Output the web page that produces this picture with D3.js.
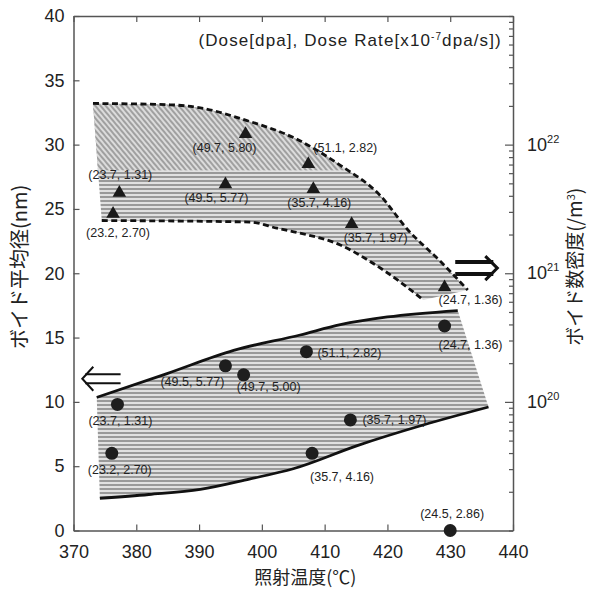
<!DOCTYPE html>
<html>
<head>
<meta charset="utf-8">
<script src="https://cdn.jsdelivr.net/npm/d3@7"></script>
<style>
  body { margin: 0; background: #fff; }
  text { font-family: "Liberation Sans", Arial, sans-serif; fill: #222; }
  .jp { font-family: "Noto Sans CJK JP", sans-serif; }
</style>
</head>
<body>
<div id="chart"></div>
<script>
// ボイド数密度 (三角, 右軸)
const triTemp = [377.3, 376.3, 397.4, 394.2, 407.4, 408.2, 414.3, 429.1];
const triDensity = [4.3e21, 2.95e21, 1.23e22, 5.0e21, 7.2e21, 4.6e21, 2.45e21, 7.9e20];
const triLabel = ["(23.7, 1.31)", "(23.2, 2.70)", "(49.7, 5.80)", "(49.5, 5.77)", "(51.1, 2.82)", "(35.7, 4.16)", "(35.7, 1.97)", "(24.7, 1.36)"];

// ボイド平均径 (丸, 左軸)
const dotTemp = [377.0, 376.1, 394.2, 397.1, 407.1, 429.1, 414.1, 408.0, 430.0];
const dotSize = [9.8, 6.0, 12.8, 12.1, 13.9, 15.9, 8.6, 6.0, 0];
const dotLabel = ["(23.7, 1.31)", "(23.2, 2.70)", "(49.5, 5.77)", "(49.7, 5.00)", "(51.1, 2.82)", "(24.7, 1.36)", "(35.7, 1.97)", "(35.7, 4.16)", "(24.5, 2.86)"];

// 帯 (数密度) 上下の境界
const densTopTemp = [373.1, 385.4, 390.2, 397.4, 405.6, 412.5, 418.9, 423.2, 428.5, 432.8];
const densTopVal = [2.09e22, 2.04e22, 1.93e22, 1.55e22, 1.10e22, 6.9e21, 4.0e21, 2.19e21, 1.23e21, 7.4e20];
const densBotTemp = [374.5, 398.1, 402.4, 406.1, 412.5, 417.3, 422.1, 425.7];
const densBotVal = [2.57e21, 2.5e21, 2.24e21, 2.05e21, 1.66e21, 1.23e21, 8.5e20, 6.2e20];

// 帯 (平均径) 上下の境界
const sizeTopTemp = [373.7, 384.9, 395.5, 406.1, 412.5, 420.0, 431.2];
const sizeTopVal = [10.35, 12.2, 14.0, 15.2, 16.0, 16.6, 17.1];
const sizeBotTemp = [374.2, 382.0, 390.2, 398.0, 405.0, 415.2, 425.7, 436.1];
const sizeBotVal = [2.5, 2.8, 3.2, 4.0, 4.8, 6.6, 8.2, 9.6];

const xTicks = [370, 380, 390, 400, 410, 420, 430, 440];
const yTicks = [0, 5, 10, 15, 20, 25, 30, 35, 40];
const rTicks = [1e20, 1e21, 1e22];

// ラベルの位置 (点からのずれ)
const triOff = [[-31, -13], [-27, 24], [-53, 19], [-41, 19], [5, -11], [-26, 19], [-8, 19], [-6, 18]];
const dotOff = [[-29, 21], [-24, 21], [-65, 20], [-7, 16], [11, 5], [-6, 23], [12, 4], [-2, 28], [-30, -13]];

const width = 591, height = 592;
const m = { left: 73.5, right: 78, top: 16, bottom: 61.5 };

const svg = d3.select("#chart").append("svg")
  .attr("width", width)
  .attr("height", height);

const x = d3.scaleLinear().domain([370, 440]).range([m.left, width - m.right]);
const y = d3.scaleLinear().domain([0, 40]).range([height - m.bottom, m.top]);
const yR = d3.scaleLog().domain([1e19, 1e23]).range([height - m.bottom, m.top]);

// パターン
const defs = svg.append("defs");
const hp = defs.append("pattern").attr("id", "hstripe")
  .attr("patternUnits", "userSpaceOnUse").attr("width", 8).attr("height", 4);
hp.append("rect").attr("width", 8).attr("height", 4).attr("fill", "#e0e0e0");
hp.append("rect").attr("width", 8).attr("height", 2).attr("fill", "#999");

const dp = defs.append("pattern").attr("id", "dstripe")
  .attr("patternUnits", "userSpaceOnUse").attr("width", 4).attr("height", 4)
  .attr("patternTransform", "rotate(-40)");
dp.append("rect").attr("width", 4).attr("height", 4).attr("fill", "#dcdcdc");
dp.append("rect").attr("width", 2).attr("height", 4).attr("fill", "#a0a0a0");

const curve = d3.curveMonotoneX;
const zip = (a, b) => a.map((v, i) => [v, b[i]]);

// 数密度の帯
const dTop = zip(densTopTemp, densTopVal);
const dBot = zip(densBotTemp, densBotVal);
const lineR = d3.line().x(d => x(d[0])).y(d => yR(d[1])).curve(curve);
const bandR = lineR(dTop) + "L" + lineR(dBot.slice().reverse()).slice(1) + "Z";

defs.append("clipPath").attr("id", "clipR").append("path").attr("d", bandR);
svg.append("path").attr("d", bandR).attr("fill", "url(#hstripe)");
svg.append("rect")
  .attr("clip-path", "url(#clipR)")
  .attr("x", m.left).attr("y", m.top)
  .attr("width", width - m.left - m.right)
  .attr("height", y(28) - m.top)
  .attr("fill", "url(#dstripe)");

svg.append("path").attr("d", lineR(dTop))
  .attr("fill", "none").attr("stroke", "#111")
  .attr("stroke-width", 2.8).attr("stroke-dasharray", "6,3.5");
svg.append("path").attr("d", lineR(dBot))
  .attr("fill", "none").attr("stroke", "#111")
  .attr("stroke-width", 2.8).attr("stroke-dasharray", "6,3.5");

// 平均径の帯
const sTop = zip(sizeTopTemp, sizeTopVal);
const sBot = zip(sizeBotTemp, sizeBotVal);
const lineL = d3.line().x(d => x(d[0])).y(d => y(d[1])).curve(curve);
const bandL = lineL(sTop) + "L" + lineL(sBot.slice().reverse()).slice(1) + "Z";
svg.append("path").attr("d", bandL).attr("fill", "url(#hstripe)");
svg.append("path").attr("d", lineL(sTop))
  .attr("fill", "none").attr("stroke", "#111").attr("stroke-width", 2.8);
svg.append("path").attr("d", lineL(sBot))
  .attr("fill", "none").attr("stroke", "#111").attr("stroke-width", 2.8);

// 軸
const axisColor = "#555";
const gx = svg.append("g")
  .attr("transform", `translate(0,${height - m.bottom})`)
  .call(d3.axisBottom(x).tickValues(xTicks).tickSizeInner(-6).tickSizeOuter(0).tickPadding(15));
const gxt = svg.append("g")
  .attr("transform", `translate(0,${m.top})`)
  .call(d3.axisTop(x).tickValues(xTicks).tickSizeInner(-6).tickSizeOuter(0).tickFormat(""));
const gy = svg.append("g")
  .attr("transform", `translate(${m.left},0)`)
  .call(d3.axisLeft(y).tickValues(yTicks).tickSizeInner(-6).tickSizeOuter(0).tickPadding(9));
const gr = svg.append("g")
  .attr("transform", `translate(${width - m.right},0)`)
  .call(d3.axisRight(yR).tickValues(yR.ticks()).tickSizeInner(-4).tickSizeOuter(0).tickFormat(""));
gr.selectAll(".tick line").filter(d => rTicks.includes(d)).attr("x2", -8);

[gx, gxt, gy, gr].forEach(g => {
  g.selectAll("path.domain").attr("stroke", axisColor).attr("stroke-width", 1.5);
  g.selectAll(".tick line").attr("stroke", axisColor).attr("stroke-width", 1.2);
  g.selectAll(".tick text").attr("font-size", 18).attr("fill", "#222")
    .attr("font-family", "Liberation Sans, Arial, sans-serif");
});

// 右軸ラベル
const rl = svg.append("g").selectAll("text").data(rTicks).join("text")
  .attr("x", width - m.right + 14)
  .attr("y", d => yR(d) + 6)
  .attr("font-size", 18);
rl.append("tspan").text("10");
rl.append("tspan").attr("dy", -8).attr("font-size", 11).text(d => Math.round(Math.log10(d)));

// 点
svg.append("g").selectAll("path").data(triTemp).join("path")
  .attr("transform", (d, i) => `translate(${x(d)},${yR(triDensity[i]) + 1})`)
  .attr("d", d3.symbol(d3.symbolTriangle, 80))
  .attr("fill", "#1a1a1a");
svg.append("g").selectAll("circle").data(dotTemp).join("circle")
  .attr("cx", d => x(d))
  .attr("cy", (d, i) => y(dotSize[i]))
  .attr("r", 6.5)
  .attr("fill", "#1e1e1e");

svg.append("g").selectAll("text").data(triLabel).join("text")
  .attr("x", (d, i) => x(triTemp[i]) + triOff[i][0])
  .attr("y", (d, i) => yR(triDensity[i]) + triOff[i][1])
  .attr("font-size", 12.5)
  .text(d => d);
svg.append("g").selectAll("text").data(dotLabel).join("text")
  .attr("x", (d, i) => x(dotTemp[i]) + dotOff[i][0])
  .attr("y", (d, i) => y(dotSize[i]) + dotOff[i][1])
  .attr("font-size", 12.5)
  .text(d => d);

// 矢印
const la = svg.append("g").attr("fill", "none").attr("stroke", "#111").attr("stroke-width", 2);
const ax0 = x(371.4), ax1 = x(377.5), ay = y(11.8);
la.append("path").attr("d", `M${ax0 + 3},${ay - 4.5}H${ax1}M${ax0 + 3},${ay + 4.5}H${ax1}`);
la.append("path").attr("d", `M${ax0 + 11},${ay - 12}L${ax0},${ay}L${ax0 + 11},${ay + 12}`);

const ra = svg.append("g").attr("fill", "none").attr("stroke", "#111").attr("stroke-width", 4);
const bx0 = x(430.8), bx1 = x(437.5), by = y(20.4);
ra.append("path").attr("d", `M${bx0},${by - 6}H${bx1 - 4}M${bx0},${by + 6}H${bx1 - 4}`);
ra.append("path").attr("d", `M${bx1 - 12},${by - 12}L${bx1},${by}L${bx1 - 12},${by + 12}`)
  .attr("stroke-width", 3);

// 注記
const note = svg.append("text")
  .attr("x", x(389.9)).attr("y", m.top + 30)
  .attr("font-size", 17).attr("letter-spacing", 1.1);
note.append("tspan").text("(Dose[dpa], Dose Rate[x10");
note.append("tspan").attr("dy", -6).attr("font-size", 10).text("-7");
note.append("tspan").attr("dy", 6).text("dpa/s])");

// 軸タイトル
svg.append("text").attr("class", "jp")
  .attr("x", (m.left + width - m.right) / 2 + 12).attr("y", height - 8)
  .attr("text-anchor", "middle").attr("font-size", 18)
  .text("照射温度(℃)");
svg.append("text").attr("class", "jp")
  .attr("transform", `translate(27,${y(20.5)}) rotate(-90)`)
  .attr("text-anchor", "middle").attr("font-size", 20)
  .text("ボイド平均径(nm)");
const rt = svg.append("text").attr("class", "jp")
  .attr("transform", `translate(582,${y(20.5)}) rotate(-90)`)
  .attr("text-anchor", "middle").attr("font-size", 19);
rt.append("tspan").text("ボイド数密度(/m");
rt.append("tspan").attr("dy", -7).attr("font-size", 11).text("3");
rt.append("tspan").attr("dy", 7).text(")");
</script>
</body>
</html>
